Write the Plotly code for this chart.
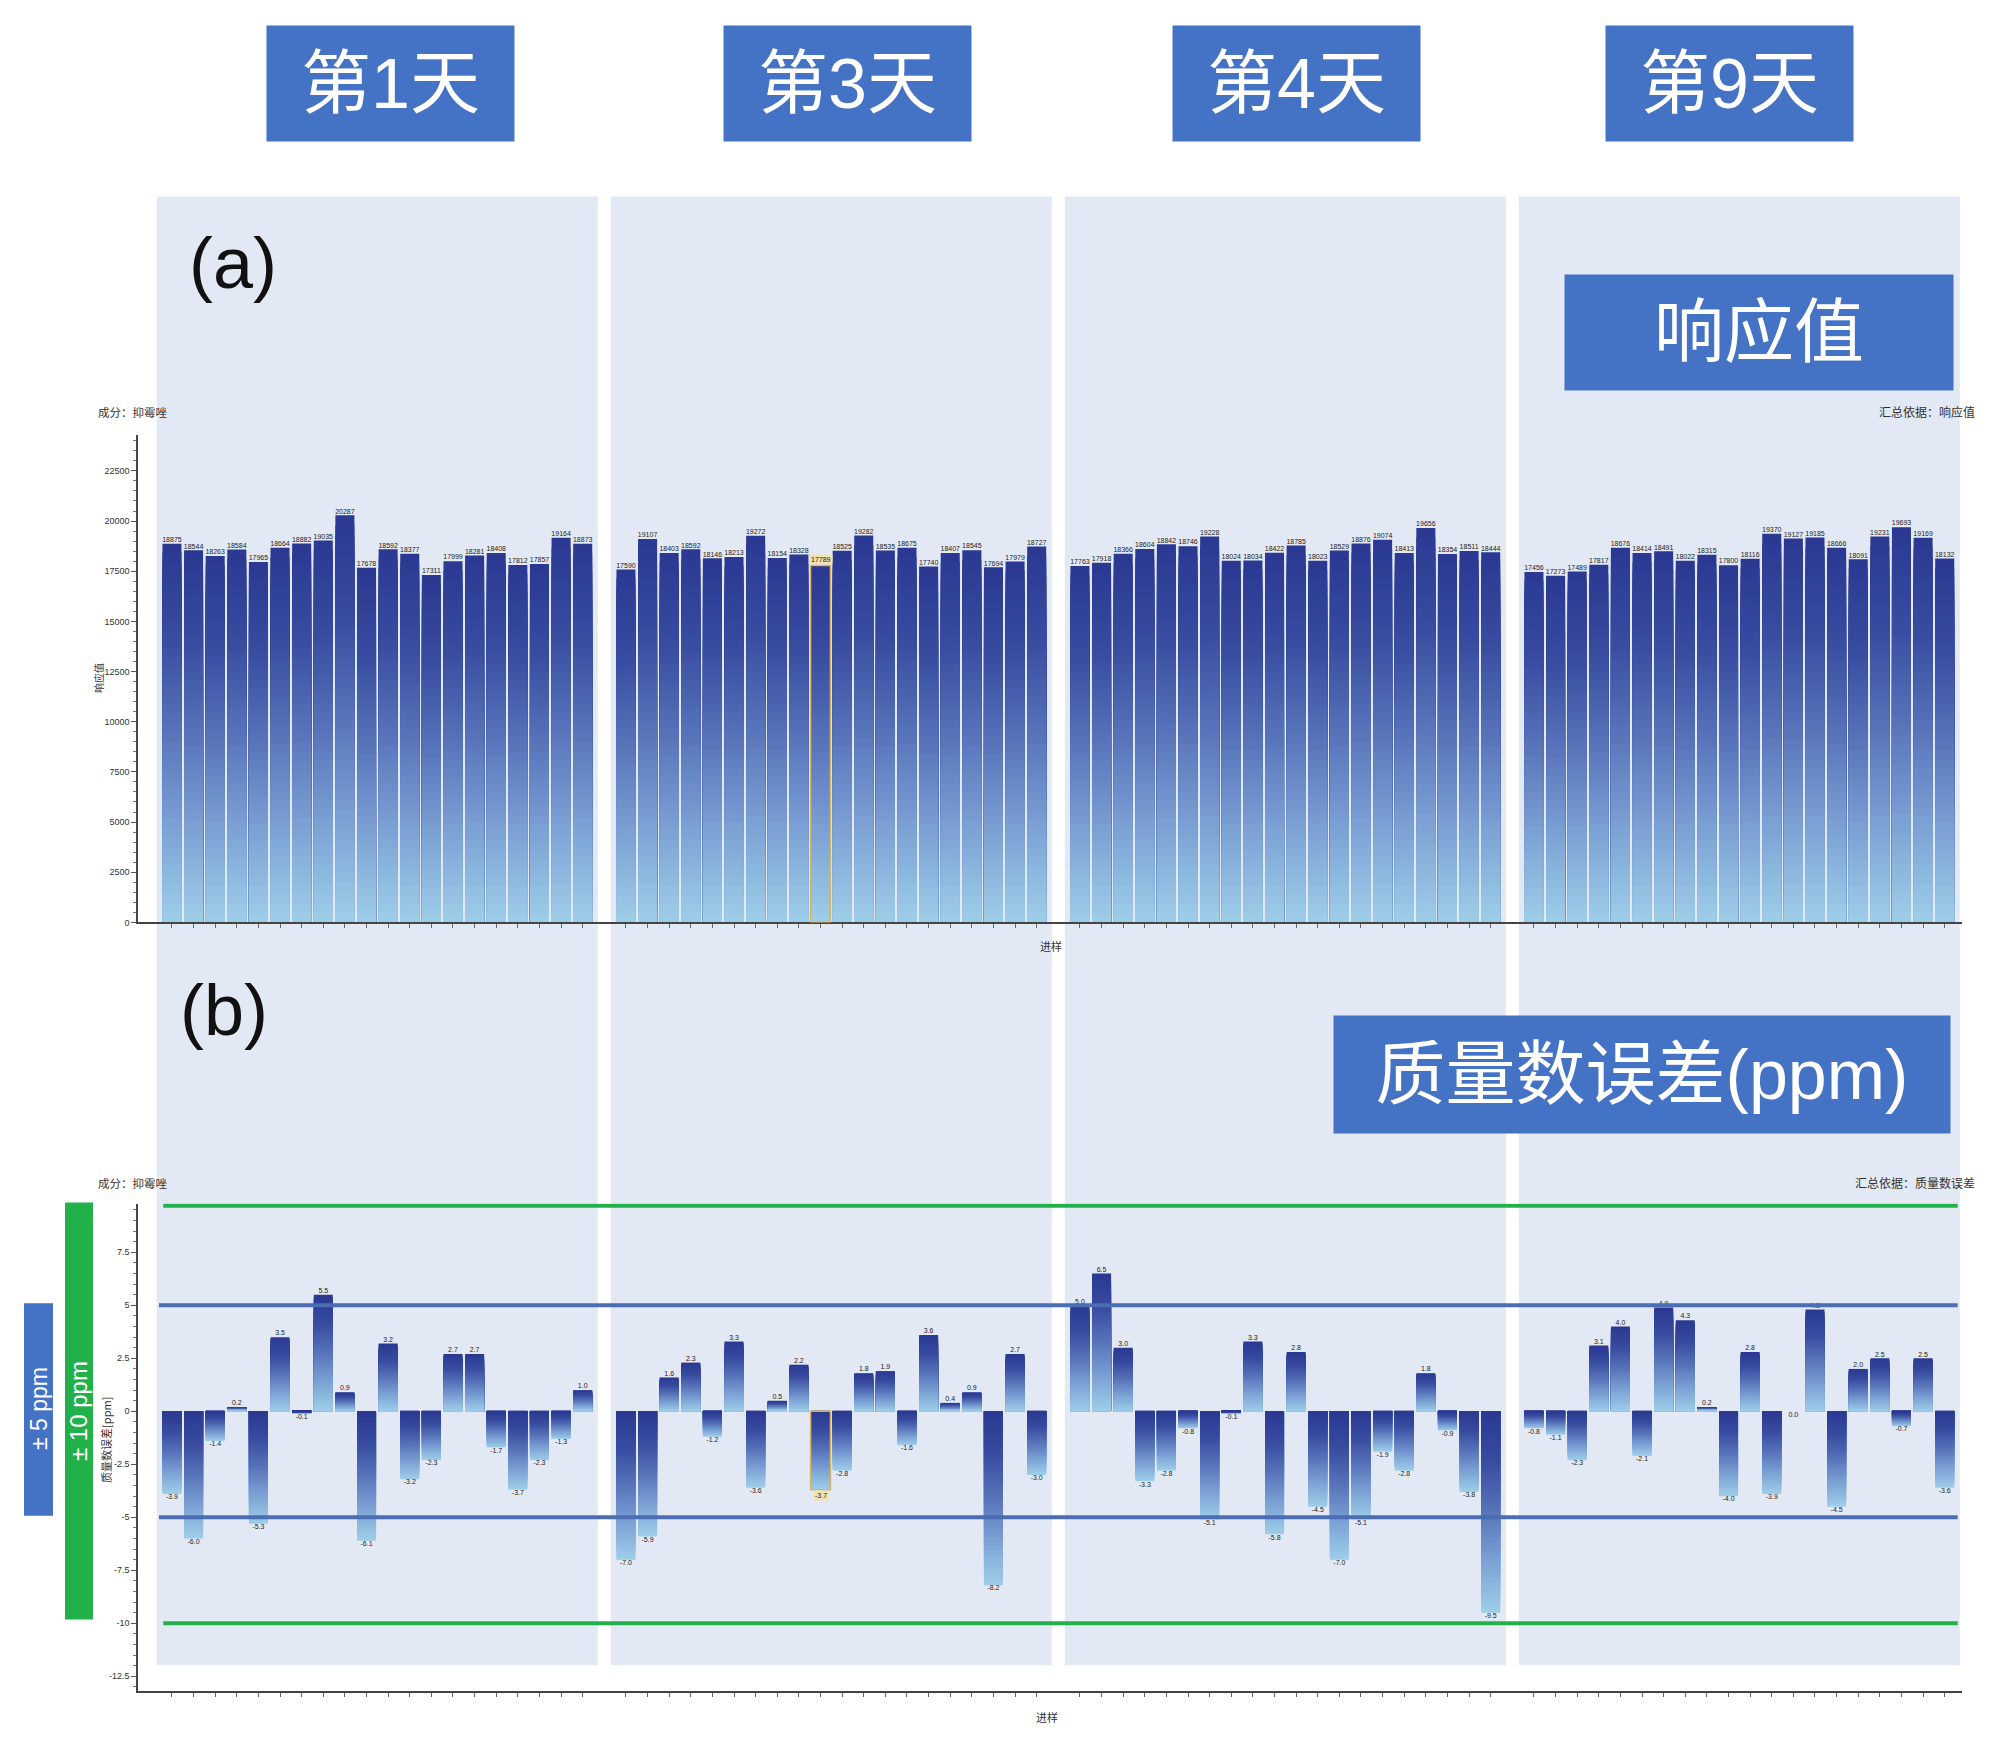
import plotly.graph_objects as go

W, H = 2000, 1751

days = ["第1天", "第3天", "第4天", "第9天"]

# 响应值, one list per day, 20 injections each
resp_d1 = [18875, 18544, 18263, 18584, 17965, 18664, 18882, 19035, 20287, 17678,
           18592, 18377, 17311, 17999, 18281, 18408, 17812, 17857, 19164, 18873]
resp_d3 = [17590, 19107, 18403, 18592, 18146, 18213, 19272, 18154, 18328, 17789,
           18525, 19282, 18535, 18675, 17740, 18407, 18545, 17694, 17979, 18727]
resp_d4 = [17763, 17918, 18366, 18604, 18842, 18746, 19228, 18024, 18034, 18422,
           18785, 18023, 18529, 18876, 19074, 18413, 19656, 18354, 18511, 18444]
resp_d9 = [17456, 17273, 17489, 17817, 18676, 18414, 18491, 18022, 18315, 17800,
           18116, 19370, 19127, 19185, 18666, 18091, 19231, 19693, 19169, 18132]

# 质量数误差 [ppm]
err_d1 = [-3.9, -6.0, -1.4, 0.2, -5.3, 3.5, -0.1, 5.5, 0.9, -6.1,
          3.2, -3.2, -2.3, 2.7, 2.7, -1.7, -3.7, -2.3, -1.3, 1.0]
err_d3 = [-7.0, -5.9, 1.6, 2.3, -1.2, 3.3, -3.6, 0.5, 2.2, -3.7,
          -2.8, 1.8, 1.9, -1.6, 3.6, 0.4, 0.9, -8.2, 2.7, -3.0]
err_d4 = [5.0, 6.5, 3.0, -3.3, -2.8, -0.8, -5.1, -0.1, 3.3, -5.8,
          2.8, -4.5, -7.0, -5.1, -1.9, -2.8, 1.8, -0.9, -3.8, -9.5]
err_d9 = [-0.8, -1.1, -2.3, 3.1, 4.0, -2.1, 4.9, 4.3, 0.2, -4.0,
          2.8, -3.9, 0.0, 4.8, -4.5, 2.0, 2.5, -0.7, 2.5, -3.6]

resp_ticks = [0, 2500, 5000, 7500, 10000, 12500, 15000, 17500, 20000, 22500]
resp_ticktext = ["0", "2500", "5000", "7500", "10000", "12500", "15000", "17500", "20000", "22500"]
err_ticks = [-12.5, -10, -7.5, -5, -2.5, 0, 2.5, 5, 7.5]
err_ticktext = ["-12.5", "-10", "-7.5", "-5", "-2.5", "0", "2.5", "5", "7.5"]

limit_inner = 5
limit_outer = 10

hl_day, hl_idx = 1, 9   # selected injection (第3天, 10th)

resp = [resp_d1, resp_d3, resp_d4, resp_d9]
err = [err_d1, err_d3, err_d4, err_d9]

# x slots: 20 injections per day, one empty slot between days
pos = [g * 21 + i for g in range(4) for i in range(20)]
resp_all = [v for grp in resp for v in grp]
err_all = [v for grp in err for v in grp]

CJK = "Noto Sans CJK SC"
LAT = "Liberation Sans, Noto Sans CJK SC"
BOX_BLUE = "#4472c4"

# gradient stops, 0 = light (bottom) .. 1 = dark (top)
stops = [(0.0, (158, 206, 233)), (0.25, (124, 162, 213)), (0.5, (88, 116, 186)),
         (0.75, (56, 76, 160)), (1.0, (42, 56, 145))]


def grad(f):
    for (f0, c0), (f1, c1) in zip(stops[:-1], stops[1:]):
        if f <= f1:
            t = (f - f0) / (f1 - f0)
            return "rgb(%d,%d,%d)" % tuple(round(a + (b - a) * t) for a, b in zip(c0, c1))
    return "rgb(%d,%d,%d)" % stops[-1][1]


# gradient bars: overlaid bars, tallest first, each shorter one a lighter shade
N = 40
fig = go.Figure()
for vals, xa, ya in [(resp_all, "x", "y"), (err_all, "x2", "y2")]:
    for k in range(N - 1, -1, -1):
        cols = []
        for v in vals:
            f = (k + 0.5) / N
            cols.append(grad(1 - f if v < 0 else f))
        fig.add_trace(go.Bar(
            x=pos, y=[v * (k + 1) / N for v in vals], width=0.88,
            marker=dict(color=cols, line=dict(width=0)),
            xaxis=xa, yaxis=ya, hoverinfo="skip", showlegend=False))

hl = hl_day * 20 + hl_idx
resp_txt = [str(v) for v in resp_all]
err_txt = ["%.1f" % v for v in err_all]
resp_txt[hl] = ""
err_txt[hl] = ""

fig.add_trace(go.Scatter(
    x=pos, y=resp_all, mode="text", text=resp_txt, textposition="top center",
    textfont=dict(size=7, color="#222", family=LAT), xaxis="x", yaxis="y",
    hoverinfo="skip", cliponaxis=False, showlegend=False))
fig.add_trace(go.Scatter(
    x=pos, y=err_all, mode="text", text=err_txt,
    textposition=["top center" if v > 0 else "bottom center" for v in err_all],
    textfont=dict(size=7, color="#222", family=LAT), xaxis="x2", yaxis="y2",
    hoverinfo="skip", cliponaxis=False, showlegend=False))

shapes = []
# day panels behind both charts
for g in range(4):
    shapes.append(dict(type="rect", xref="x", yref="paper", x0=g * 21 - 0.7, x1=g * 21 + 19.7,
                       y0=1 - 1662 / H, y1=1 - 189 / H, fillcolor="#e3e9f4",
                       line=dict(width=0), layer="below"))
# ppm limit lines
for lv in (limit_inner, -limit_inner):
    shapes.append(dict(type="line", xref="x2", yref="y2", x0=-0.6, x1=82.6, y0=lv, y1=lv,
                       line=dict(color="#4a6db3", width=4)))
for lv in (limit_outer - 0.3, -limit_outer):
    shapes.append(dict(type="line", xref="x2", yref="y2", x0=-0.4, x1=82.6, y0=lv, y1=lv,
                       line=dict(color="#22b04b", width=4)))
# selected injection outline
for v, xa, ya in [(resp_all[hl], "x", "y"), (err_all[hl], "x2", "y2")]:
    shapes.append(dict(type="rect", xref=xa, yref=ya, x0=pos[hl] - 0.46, x1=pos[hl] + 0.46,
                       y0=0, y1=v, line=dict(color="#d8b45c", width=1.5)))
# side boxes
shapes.append(dict(type="rect", xref="paper", yref="paper", x0=16 / W, x1=45 / W,
                   y0=1 - 1512 / H, y1=1 - 1299 / H, fillcolor=BOX_BLUE, line=dict(width=0)))
shapes.append(dict(type="rect", xref="paper", yref="paper", x0=57 / W, x1=85 / W,
                   y0=1 - 1616 / H, y1=1 - 1198 / H, fillcolor="#22b04b", line=dict(width=0)))


def ann(text, x, y, size, color="#333", family=CJK, **kw):
    d = dict(text=text, x=x / W, y=1 - y / H, xref="paper", yref="paper", showarrow=False,
             font=dict(size=size, color=color, family=family), xanchor="center", yanchor="middle")
    d.update(kw)
    return d


annotations = []
for d, cx in zip(days, [382, 839, 1288, 1721]):
    annotations.append(ann(d, cx, 76, 70, "white", LAT, bgcolor=BOX_BLUE, width=245, height=113))
annotations.append(ann("响应值", 1751, 325, 70, "white", LAT, bgcolor=BOX_BLUE, width=386, height=113))
annotations.append(ann("质量数误差(ppm)", 1634, 1070, 70, "white", LAT, bgcolor=BOX_BLUE,
                       width=614, height=115))
annotations.append(ann("(a)", 225, 256, 72, "#111", LAT))
annotations.append(ann("(b)", 216, 1005, 72, "#111", LAT))
annotations.append(ann("成分：抑霉唑", 88, 405, 11.5, xanchor="left"))
annotations.append(ann("成分：抑霉唑", 88, 1178, 11.5, xanchor="left"))
annotations.append(ann("汇总依据：响应值", 1969, 405, 12, xanchor="right"))
annotations.append(ann("汇总依据：质量数误差", 1969, 1178, 12, xanchor="right"))
annotations.append(ann("响应值", 90, 672, 10, textangle=-90))
annotations.append(ann("质量数误差[ppm]", 98, 1436, 11, textangle=-90))
annotations.append(ann("进样", 1043, 941, 11))
annotations.append(ann("进样", 1039, 1714, 11))
annotations.append(ann("± 5 ppm", 31, 1405, 23, "white", LAT, textangle=-90))
annotations.append(ann("± 10 ppm", 71, 1407, 24, "white", LAT, textangle=-90))
# selected injection labels
annotations.append(dict(text=str(resp_all[hl]), x=pos[hl], y=resp_all[hl], xref="x", yref="y",
                        showarrow=False, yanchor="bottom", bgcolor="#f2e2b0", borderpad=1,
                        font=dict(size=7, color="#222", family=LAT)))
annotations.append(dict(text="%.1f" % err_all[hl], x=pos[hl], y=err_all[hl], xref="x2", yref="y2",
                        showarrow=False, yanchor="top", bgcolor="#f2e2b0", borderpad=1,
                        font=dict(size=7, color="#222", family=LAT)))

xdom = [130 / W, 1954 / W]
xcommon = dict(domain=xdom, range=[-1.57, 82.8], showline=True, linecolor="#444", linewidth=2,
               ticks="outside", tickvals=pos, ticklen=4, tickcolor="#666",
               showticklabels=False, showgrid=False, zeroline=False)
ycommon = dict(showline=True, linecolor="#444", linewidth=1.5, ticks="outside", ticklen=5,
               tickcolor="#555", showgrid=False, zeroline=False,
               tickfont=dict(size=9, color="#333", family=LAT))

fig.update_layout(
    width=W, height=H, margin=dict(l=0, r=0, t=0, b=0),
    paper_bgcolor="white", plot_bgcolor="rgba(0,0,0,0)",
    barmode="overlay", showlegend=False,
    xaxis=dict(anchor="y", **xcommon),
    xaxis2=dict(anchor="y2", **xcommon),
    yaxis=dict(anchor="x", domain=[1 - 917 / H, 1 - 428 / H], range=[0, 24300],
               tickvals=resp_ticks, ticktext=resp_ticktext,
               minor=dict(dtick=500, tick0=0, ticks="outside", ticklen=3, tickcolor="#777"),
               **ycommon),
    yaxis2=dict(anchor="x2", domain=[1 - 1688 / H, 1 - 1199 / H], range=[-13.2, 9.8],
                tickvals=err_ticks, ticktext=err_ticktext,
                minor=dict(dtick=0.5, tick0=0, ticks="outside", ticklen=3, tickcolor="#777"),
                **ycommon),
    shapes=shapes, annotations=annotations,
)

fig.write_html("out.html")
